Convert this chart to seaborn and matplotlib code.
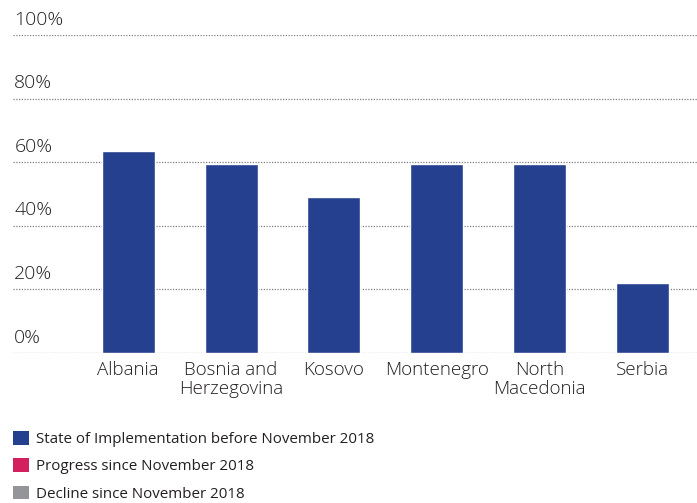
import matplotlib
matplotlib.use("Agg")
import matplotlib.pyplot as plt
import matplotlib.transforms as mtransforms
from matplotlib.patches import Patch
import seaborn as sns
import pandas as pd

countries = ["Albania", "Bosnia and\nHerzegovina", "Kosovo", "Montenegro", "North\nMacedonia", "Serbia"]
state_before = [63.5, 59.3, 49.2, 59.3, 59.3, 22.0]
y_ticks = [0, 20, 40, 60, 80, 100]
legend_labels = ["State of Implementation before November 2018",
                 "Progress since November 2018",
                 "Decline since November 2018"]
legend_colors = ["#25408f", "#d41f5f", "#939598"]

sns.set_theme(style="white")
plt.rcParams['font.family'] = ['Open Sans', 'DejaVu Sans']
text_color = "#231f20"

fig = plt.figure(figsize=(6.97, 5.03), dpi=100)
ax = fig.add_axes([13/697, (503-353)/503, (697-13)/697, (353-35)/503])

df = pd.DataFrame({"country": countries, "value": state_before})
sns.barplot(data=df, x="country", y="value", order=countries, color=legend_colors[0],
            saturation=1, width=0.515, ax=ax)

ax.set_ylim(0, 100)
ax.set_xlim(-1.12, 5.53)
for s in ax.spines.values():
    s.set_visible(False)
ax.set_yticks(y_ticks)
ax.set_yticklabels([])
ax.tick_params(axis="y", length=0)
ax.yaxis.grid(True, linestyle=(0, (1, 1.2)), color="#7f7f7f", linewidth=0.9)
ax.set_axisbelow(True)
ax.set_xlabel("")
ax.set_ylabel("")
ax.tick_params(axis="x", length=0, pad=6, labelsize=13.5, labelcolor=text_color)
for lbl in ax.get_xticklabels():
    lbl.set_linespacing(1.05)
    lbl.set_fontweight("light")

trans = mtransforms.blended_transform_factory(ax.transAxes, ax.transData)
for v in y_ticks:
    ax.text(0.002, v + 2.0, f"{v}%", transform=trans, ha="left", va="bottom",
            fontsize=14, color=text_color, fontweight="light")

handles = [Patch(facecolor=c, edgecolor="none") for c in legend_colors]
leg = fig.legend(handles, legend_labels, loc="upper left",
                 bbox_to_anchor=(13/697, 1 - 431/503), frameon=False,
                 prop={"size": 10.9},
                 handlelength=1.05, handleheight=1.0, handletextpad=0.5,
                 labelspacing=0.75, borderaxespad=0, borderpad=0)
for t in leg.get_texts():
    t.set_color(text_color)

fig.savefig("out.png", dpi=100)
